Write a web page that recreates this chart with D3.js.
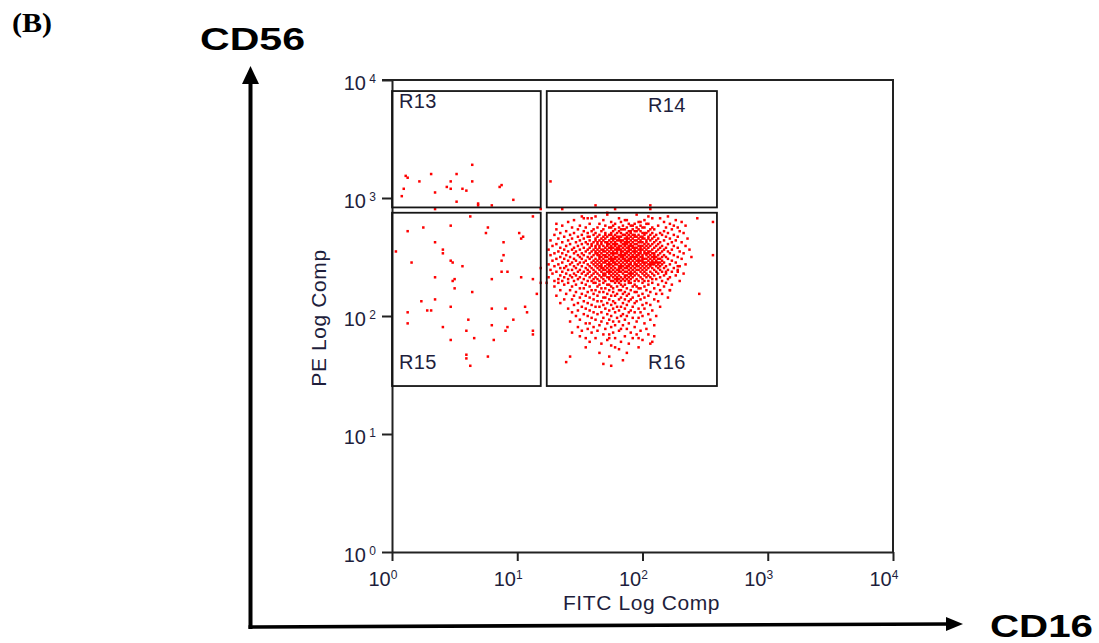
<!DOCTYPE html>
<html>
<head>
<meta charset="utf-8">
<script src="https://cdn.jsdelivr.net/npm/d3@7"></script>
<style>
    body { margin: 0; background: #fff; }
    svg { display: block; }
</style>
</head>
<body>
<div id="chart-area"></div>
<script>
/*
*    Flow cytometry dot plot, panel (B)
*    CD16 (FITC) vs CD56 (PE), 4-decade log axes
*/

// ---- data ----
var decades = [1, 10, 100, 1000, 10000];
var tickPowers = ["0", "1", "2", "3", "4"];

// gates (FITC range, PE range) in fluorescence units
var gateNames = ["R13", "R14", "R15", "R16"];
var gateFitc = [[1, 15.4], [17.2, 393], [1, 15.4], [17.2, 393]];
var gatePe = [[832, 8060], [832, 8060], [25.5, 750], [25.5, 750]];

// events as [FITC channel, PE channel], 256 channels over 4 decades
var channelsPerDecade = 64;

var r13Events = [[41,210],[7,204],[8,203],[14,201],[20,205],[33,205],[30,201],[41,201],
    [6,197],[28,198],[30,197],[36,197],[38,196],[55,198],[56,199],[22,195],[5,193],
    [33,190],[62,191],[44,189],[44,188],[51,188]];

var r14Events = [[81,201]];

// events sitting on the line between upper and lower gates
var borderEvents = [[22,186],[76,186],[87,186],[104,188],[114,186],[110,184],[132,188],[132,186]];

var r15Events = [[40,182],[72,182],[8,174],[16,176],[30,177],[49,176],[48,173],[65,173],
    [67,171],[66,170],[2,163],[22,168],[26,164],[26,162],[57,168],[10,157],[30,158],
    [31,157],[36,155],[57,161],[56,158],[56,152],[59,152],[76,154],[22,149],[31,147],
    [32,148],[51,148],[66,149],[72,148],[76,146],[32,143],[41,141],[74,140],[15,136],
    [22,137],[18,131],[20,131],[8,130],[30,133],[51,132],[58,132],[68,133],[69,130],
    [8,124],[39,126],[51,123],[62,126],[26,122],[38,120],[58,120],[59,122],[72,120],
    [72,118],[30,115],[42,116],[52,115],[38,107],[38,105],[49,106],[40,101]];

var r16Outliers = [[156,181],[164,179],[164,161],[157,140],[146,155],[146,152],[142,142],
    [140,152],[91,106],[89,103],[112,101],[114,111],[133,114],[134,117],[126,116],
    [92,119],[99,116],[111,116],[79,146]];

// main CD16+ CD56dim cluster, one row per PE channel
var r16Rows = [
    [183, [110, 125]],
    [182, [97, 104, 131, 141]],
    [181, [98, 100, 102, 116, 133, 137]],
    [180, [93, 108, 119, 120, 129, 145]],
    [179, [90, 112, 117, 126, 127, 139, 148]],
    [178, [84, 101, 106, 114, 121, 124, 130, 131, 142]],
    [177, [87, 96, 109, 113, 118, 122, 123, 127, 136, 144, 150]],
    [176, [92, 99, 105, 111, 112, 116, 120, 125, 128, 129, 133, 140, 146]],
    [175, [84, 95, 103, 108, 114, 117, 118, 119, 123, 126, 132, 134, 143]],
    [174, [89, 98, 102, 107, 113, 116, 121, 122, 124, 125, 127, 131, 139, 147]],
    [173, [86, 93, 100, 104, 109, 112, 115, 117, 120, 122, 128, 129, 130, 133, 137, 141, 149]],
    [172, [83, 91, 97, 103, 106, 109, 111, 112, 114, 118, 119, 121, 123, 124, 126, 129, 132, 135, 138, 144]],
    [171, [88, 95, 100, 101, 105, 108, 110, 113, 115, 116, 117, 120, 122, 124, 125, 127, 128, 131, 134, 140, 146]],
    [170, [85, 92, 98, 104, 107, 109, 112, 113, 114, 116, 119, 120, 121, 123, 126, 128, 129, 131, 133, 136, 142, 151]],
    [169, [81, 90, 96, 101, 104, 106, 108, 111, 113, 115, 116, 117, 118, 120, 122, 124, 125, 127, 130, 132, 135, 139, 145]],
    [168, [87, 94, 99, 103, 105, 107, 109, 110, 112, 114, 117, 119, 120, 121, 123, 126, 127, 128, 130, 134, 137, 143, 148]],
    [167, [84, 91, 97, 100, 102, 105, 107, 110, 111, 113, 114, 115, 118, 119, 120, 122, 124, 125, 129, 131, 133, 136, 141]],
    [166, [82, 89, 95, 102, 104, 106, 108, 110, 112, 114, 116, 117, 119, 121, 122, 123, 126, 127, 128, 130, 132, 135, 138, 144, 150]],
    [165, [86, 93, 98, 101, 104, 106, 109, 111, 112, 113, 115, 116, 118, 120, 121, 123, 124, 125, 127, 129, 131, 134, 137, 140, 146]],
    [164, [80, 88, 92, 96, 100, 103, 105, 107, 108, 110, 112, 114, 115, 116, 117, 119, 121, 122, 124, 126, 127, 128, 130, 133, 136, 139, 143, 152]],
    [163, [85, 90, 94, 99, 102, 104, 106, 108, 109, 111, 113, 115, 117, 118, 120, 121, 123, 124, 125, 127, 129, 131, 132, 135, 138, 141, 147]],
    [162, [83, 87, 93, 97, 101, 104, 105, 107, 110, 112, 113, 114, 115, 117, 119, 120, 122, 124, 126, 127, 129, 130, 131, 133, 134, 137, 142, 149]],
    [161, [81, 89, 95, 98, 103, 105, 106, 108, 109, 111, 113, 116, 117, 118, 119, 121, 123, 125, 126, 128, 130, 132, 134, 136, 139, 144]],
    [160, [86, 91, 96, 100, 102, 106, 107, 109, 110, 112, 114, 115, 117, 118, 120, 122, 123, 124, 125, 127, 128, 131, 133, 134, 135, 138, 140, 146, 153]],
    [159, [84, 88, 93, 97, 101, 104, 106, 108, 111, 112, 113, 114, 116, 118, 119, 121, 122, 124, 126, 128, 129, 130, 132, 134, 136, 137, 141, 148]],
    [158, [82, 90, 94, 99, 103, 105, 107, 109, 110, 112, 113, 115, 117, 119, 120, 121, 123, 125, 126, 127, 128, 131, 133, 135, 138, 143]],
    [157, [87, 92, 96, 98, 102, 104, 106, 108, 109, 111, 113, 114, 116, 118, 120, 122, 124, 126, 128, 129, 130, 132, 133, 134, 135, 136, 137, 139, 145]],
    [156, [80, 85, 91, 95, 100, 103, 105, 107, 110, 111, 112, 114, 115, 117, 119, 121, 122, 124, 125, 127, 129, 131, 132, 133, 134, 136, 138, 142, 150]],
    [155, [83, 89, 93, 97, 101, 104, 106, 107, 109, 111, 113, 116, 117, 118, 120, 121, 123, 125, 126, 128, 130, 132, 135, 137, 140, 147]],
    [154, [86, 88, 94, 99, 102, 105, 107, 108, 110, 112, 114, 116, 117, 119, 120, 122, 124, 127, 129, 131, 133, 136, 139, 144]],
    [153, [81, 90, 92, 96, 100, 103, 106, 108, 109, 111, 113, 115, 116, 118, 121, 123, 125, 126, 128, 130, 134, 137, 141, 146]],
    [152, [84, 87, 95, 98, 101, 104, 107, 110, 111, 112, 114, 116, 117, 119, 120, 122, 124, 127, 129, 132, 135, 138, 143]],
    [151, [82, 89, 93, 97, 100, 103, 105, 108, 109, 111, 113, 115, 118, 121, 122, 123, 125, 128, 130, 133, 136, 140, 149]],
    [150, [86, 91, 94, 99, 102, 106, 108, 109, 112, 114, 116, 119, 120, 122, 124, 126, 129, 131, 134, 139, 145]],
    [149, [80, 88, 92, 96, 101, 104, 107, 110, 111, 113, 115, 117, 119, 121, 123, 127, 130, 132, 137, 142]],
    [148, [85, 90, 95, 98, 103, 105, 108, 111, 114, 115, 116, 118, 120, 122, 125, 128, 133, 135, 141]],
    [147, [83, 87, 93, 100, 102, 106, 109, 112, 113, 115, 117, 119, 121, 124, 126, 129, 131, 138, 147]],
    [146, [85, 90, 97, 103, 104, 108, 114, 116, 121, 122, 128, 133, 140]],
    [145, [88, 94, 99, 106, 110, 111, 117, 119, 124, 131, 136, 143]],
    [144, [83, 92, 101, 105, 112, 115, 118, 123, 125, 129, 139]],
    [143, [96, 98, 107, 109, 113, 120, 126, 127, 134]],
    [142, [86, 91, 102, 104, 111, 116, 117, 122, 130, 137, 142]],
    [141, [94, 100, 106, 108, 113, 119, 124, 125, 132]],
    [140, [89, 97, 103, 110, 115, 118, 121, 128, 135, 138]],
    [139, [84, 93, 99, 105, 112, 114, 120, 126, 131]],
    [138, [96, 101, 108, 109, 117, 123, 129, 141]],
    [137, [88, 92, 103, 111, 116, 119, 122, 127, 134]],
    [136, [98, 105, 107, 113, 121, 125, 136]],
    [135, [86, 95, 100, 110, 114, 118, 124, 130]],
    [134, [93, 102, 108, 112, 120, 128, 132]],
    [133, [97, 104, 106, 115, 117, 123, 137]],
    [132, [90, 99, 109, 113, 119, 126, 129]],
    [131, [95, 101, 111, 116, 122, 133]],
    [130, [92, 103, 107, 114, 121, 124, 127]],
    [129, [98, 105, 110, 118, 131]],
    [128, [94, 100, 112, 117, 120, 128, 135]],
    [127, [102, 108, 115, 123, 126]],
    [126, [96, 104, 111, 119, 132]],
    [125, [91, 107, 113, 116, 125]],
    [124, [99, 101, 110, 121, 129]],
    [123, [106, 114, 118, 134]],
    [122, [95, 103, 112, 124]],
    [121, [100, 109, 117, 120, 130]],
    [120, [97, 105, 116, 127]],
    [119, [102, 113, 122]],
    [118, [108, 111, 125, 131]],
    [117, [96, 119]],
    [116, [104, 114, 123]],
    [115, [110, 128]],
    [114, [101, 117]],
    [113, [107, 121, 132]],
    [112, [112]],
    [111, [99, 126]],
    [110, [116]],
    [108, [106, 120]],
    [106, [111]],
    [104, [118]],
    [102, [108]]
];

// ---- layout ----
var width = 1099;
var height = 643;
var plotLeft = 392, plotRight = 893, plotTop = 80, plotBottom = 552;
var sansFont = "Arial, 'Liberation Sans', sans-serif";
var ink = "#222";
var labelColor = "#1e1e3c";
var dotColor = "#ff0000";

var svg = d3.select("#chart-area")
    .append("svg")
    .attr("width", width)
    .attr("height", height)
    .style("font-family", sansFont);

var x = d3.scaleLog()
    .domain([1, 10000])
    .range([plotLeft, plotRight]);

var y = d3.scaleLog()
    .domain([1, 10000])
    .range([plotBottom, plotTop]);

function fromChannel(ch) {
    return Math.pow(10, ch / channelsPerDecade);
}

// collect all events
var events = [];
[r13Events, r14Events, borderEvents, r15Events, r16Outliers].forEach(function(list) {
    list.forEach(function(e) { events.push(e); });
});
r16Rows.forEach(function(row) {
    row[1].forEach(function(fc) { events.push([fc, row[0]]); });
});
events = events.map(function(e) {
    return { fitc: fromChannel(e[0]), pe: fromChannel(e[1]) };
});

// frame top / right
svg.append("path")
    .attr("d", "M" + (plotLeft - 10) + "," + plotTop + "H" + plotRight + "V" + plotBottom)
    .attr("fill", "none")
    .attr("stroke", ink)
    .attr("stroke-width", 2);

// Y axis
var yAxisGroup = svg.append("g")
    .attr("transform", "translate(" + plotLeft + ",0)")
    .call(d3.axisLeft(y).tickValues(decades).tickSize(10).tickSizeOuter(0).tickFormat(""));

// X axis
var xAxisGroup = svg.append("g")
    .attr("transform", "translate(0," + plotBottom + ")")
    .call(d3.axisBottom(x).tickValues(decades).tickSize(9).tickSizeOuter(0).tickFormat(""));

[yAxisGroup, xAxisGroup].forEach(function(g) {
    g.attr("font-family", null);
    g.select(".domain").attr("stroke", ink).attr("stroke-width", 2);
    g.selectAll(".tick line").attr("stroke", ink).attr("stroke-width", 2);
    g.selectAll(".tick text").remove();
});

yAxisGroup.selectAll(".tick").each(function(d, i) {
    var t = d3.select(this).append("text")
        .attr("x", -16)
        .attr("y", 9.5)
        .attr("text-anchor", "end")
        .attr("fill", labelColor)
        .attr("font-size", 20);
    t.append("tspan").text("10");
    t.append("tspan").attr("font-size", 12).attr("dy", -7).text("\u00a0" + tickPowers[i]);
});

xAxisGroup.selectAll(".tick").each(function(d, i) {
    var t = d3.select(this).append("text")
        .attr("x", -24)
        .attr("y", 34)
        .attr("text-anchor", "start")
        .attr("fill", labelColor)
        .attr("font-size", 20);
    t.append("tspan").text("10");
    t.append("tspan").attr("font-size", 12).attr("dy", -7).text(tickPowers[i]);
});

// axis titles
svg.append("text")
    .attr("x", (plotLeft + plotRight) / 2 - 1)
    .attr("y", 610)
    .attr("text-anchor", "middle")
    .attr("font-size", 21)
    .attr("letter-spacing", 0.6)
    .attr("fill", labelColor)
    .text("FITC Log Comp");

svg.append("text")
    .attr("transform", "translate(326,318) rotate(-90)")
    .attr("text-anchor", "middle")
    .attr("font-size", 21)
    .attr("letter-spacing", 0.6)
    .attr("fill", labelColor)
    .text("PE Log Comp");

// dots
svg.append("g")
    .selectAll("rect")
    .data(events)
    .enter()
    .append("rect")
        .attr("x", function(d) { return x(d.fitc) - 1.25; })
        .attr("y", function(d) { return y(d.pe) - 1.25; })
        .attr("width", 2.5)
        .attr("height", 2.5)
        .attr("fill", dotColor);

// gates
var gates = gateNames.map(function(name, i) {
    return { name: name, x0: x(gateFitc[i][0]), x1: x(gateFitc[i][1]), y0: y(gatePe[i][1]), y1: y(gatePe[i][0]) };
});

svg.append("g")
    .selectAll("rect")
    .data(gates)
    .enter()
    .append("rect")
        .attr("x", function(d) { return d.x0; })
        .attr("y", function(d) { return d.y0; })
        .attr("width", function(d) { return d.x1 - d.x0; })
        .attr("height", function(d) { return d.y1 - d.y0; })
        .attr("fill", "none")
        .attr("stroke", "#151515")
        .attr("stroke-width", 1.8);

// gate labels: upper gates at top, lower gates at bottom; left gates left, right gates right
svg.append("g")
    .selectAll("text")
    .data(gates)
    .enter()
    .append("text")
        .attr("x", function(d, i) { return i % 2 === 0 ? d.x0 + 7 : d.x1 - 69; })
        .attr("y", function(d, i) { return i < 2 ? d.y0 + (i === 0 ? 17 : 21) : d.y1 - 17; })
        .attr("font-size", 20)
        .attr("letter-spacing", 0.4)
        .attr("fill", labelColor)
        .text(function(d) { return d.name; });

// big marker arrows
svg.append("line")
    .attr("x1", 250.5).attr("y1", 629)
    .attr("x2", 250.5).attr("y2", 80)
    .attr("stroke", "#000")
    .attr("stroke-width", 4);

svg.append("path")
    .attr("d", "M250.5,66L242,84L259,84Z")
    .attr("fill", "#000");

svg.append("line")
    .attr("x1", 248.5).attr("y1", 627)
    .attr("x2", 950).attr("y2", 624)
    .attr("stroke", "#000")
    .attr("stroke-width", 3.6);

svg.append("path")
    .attr("d", "M963,624L946,617L946,631Z")
    .attr("fill", "#000");

svg.append("text")
    .attr("x", 200)
    .attr("y", 50)
    .attr("font-size", 31)
    .attr("font-weight", "bold")
    .attr("textLength", 105)
    .attr("lengthAdjust", "spacingAndGlyphs")
    .attr("fill", "#000")
    .text("CD56");

svg.append("text")
    .attr("x", 990)
    .attr("y", 637)
    .attr("font-size", 32)
    .attr("font-weight", "bold")
    .attr("textLength", 103)
    .attr("lengthAdjust", "spacingAndGlyphs")
    .attr("fill", "#000")
    .text("CD16");

svg.append("text")
    .attr("x", 12)
    .attr("y", 32)
    .attr("font-size", 27)
    .attr("font-weight", "bold")
    .attr("textLength", 40)
    .attr("lengthAdjust", "spacingAndGlyphs")
    .style("font-family", "'Liberation Serif', 'Times New Roman', serif")
    .attr("fill", "#000")
    .text("(B)");
</script>
</body>
</html>
